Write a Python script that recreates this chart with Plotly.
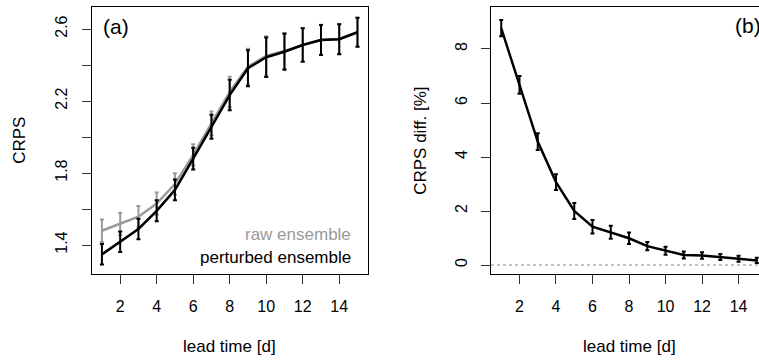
import plotly.graph_objects as go

# ---------------- data ----------------
lead_time = [1, 2, 3, 4, 5, 6, 7, 8, 9, 10, 11, 12, 13, 14, 15]

crps_raw = [1.479, 1.517, 1.557, 1.630, 1.739, 1.900, 2.075, 2.250, 2.390, 2.450, 2.478, 2.512, 2.540, 2.545, 2.582]
crps_raw_err = [0.062, 0.062, 0.060, 0.062, 0.060, 0.060, 0.067, 0.085, 0.100, 0.110, 0.100, 0.093, 0.083, 0.083, 0.080]

crps_pert = [1.348, 1.418, 1.489, 1.590, 1.706, 1.880, 2.057, 2.233, 2.382, 2.443, 2.474, 2.511, 2.539, 2.543, 2.582]
crps_pert_err = [0.057, 0.057, 0.057, 0.058, 0.058, 0.060, 0.067, 0.085, 0.100, 0.110, 0.100, 0.093, 0.083, 0.083, 0.080]

crps_diff = [8.77, 6.67, 4.57, 3.07, 2.00, 1.42, 1.21, 0.99, 0.70, 0.53, 0.37, 0.35, 0.30, 0.23, 0.17]
crps_diff_err = [0.30, 0.33, 0.31, 0.29, 0.30, 0.25, 0.24, 0.21, 0.15, 0.15, 0.13, 0.12, 0.11, 0.11, 0.10]

x_ticks = [2, 4, 6, 8, 10, 12, 14]
ya_ticks = [1.4, 1.6, 1.8, 2.0, 2.2, 2.4, 2.6]
ya_labels = ["1.4", "", "1.8", "", "2.2", "", "2.6"]
yb_ticks = [0, 2, 4, 6, 8]
yb_labels = ["0", "2", "4", "6", "8"]
zero_level = 0

# ---------------- layout constants ----------------
W, H = 759, 360
FONT = "Liberation Sans, Arial, Helvetica, sans-serif"
GRAY = "#9a9a9a"


def px(x):
    return x / W


def py(y):
    return 1 - y / H


fig = go.Figure()

fig.add_trace(go.Scatter(
    x=lead_time, y=crps_raw, mode="lines", xaxis="x", yaxis="y",
    line=dict(color=GRAY, width=2.5),
    error_y=dict(type="data", array=crps_raw_err, visible=True, color=GRAY, thickness=2, width=2),
    showlegend=False, hoverinfo="skip"))

fig.add_trace(go.Scatter(
    x=lead_time, y=crps_pert, mode="lines", xaxis="x", yaxis="y",
    line=dict(color="black", width=2.5),
    error_y=dict(type="data", array=crps_pert_err, visible=True, color="black", thickness=2, width=2),
    showlegend=False, hoverinfo="skip"))

fig.add_trace(go.Scatter(
    x=lead_time, y=crps_diff, mode="lines", xaxis="x2", yaxis="y2",
    line=dict(color="black", width=2.5),
    error_y=dict(type="data", array=crps_diff_err, visible=True, color="black", thickness=2, width=2),
    showlegend=False, hoverinfo="skip"))

fig.add_shape(type="line", xref="x2 domain", yref="y2", x0=0, x1=1, y0=zero_level, y1=zero_level,
              line=dict(color="#888888", width=1, dash="dot"), layer="below")

tick_font = dict(family=FONT, size=16, color="black")
common_x = dict(tickmode="array", tickvals=x_ticks, ticktext=[str(v) for v in x_ticks],
                ticks="outside", ticklen=9, tickwidth=1, tickcolor="#333333",
                showgrid=False, zeroline=False, showline=True, linecolor="black", linewidth=1,
                tickfont=tick_font, ticklabelstandoff=8, fixedrange=True)

fig.update_layout(
    width=W, height=H,
    margin=dict(l=0, r=0, t=0, b=0),
    paper_bgcolor="white", plot_bgcolor="white",
    font=dict(family=FONT, size=16, color="black"),
    xaxis=dict(domain=[px(91.7), px(367.7)], range=[0.44, 15.56], mirror=True, anchor="y", **common_x),
    yaxis=dict(domain=[py(274.3), py(7.3)], range=[1.2372, 2.7206], anchor="x",
               tickmode="array", tickvals=ya_ticks, ticktext=ya_labels, tickangle=-90,
               ticks="outside", ticklen=9, tickwidth=1, tickcolor="#333333",
               showgrid=False, zeroline=False, showline=True, mirror=True, linecolor="black",
               linewidth=1, tickfont=tick_font, ticklabelstandoff=8, fixedrange=True),
    xaxis2=dict(domain=[px(491), 1.0], range=[0.44, 15.12], mirror=True, anchor="y2", **common_x),
    yaxis2=dict(domain=[py(274.3), py(7.3)], range=[-0.344, 9.544], anchor="x2",
                tickmode="array", tickvals=yb_ticks, ticktext=yb_labels, tickangle=-90,
                ticks="outside", ticklen=9, tickwidth=1, tickcolor="#333333",
                showgrid=False, zeroline=False, showline=True, mirror=False, linecolor="black",
                linewidth=1, tickfont=tick_font, ticklabelstandoff=8, fixedrange=True),
)

ann = [
    dict(text="lead time [d]", x=px((91.7 + 367.7) / 2), y=py(346.7), size=17, color="black"),
    dict(text="lead time [d]", x=px(491 + (767 - 491) / 2), y=py(346.7), size=17, color="black"),
    dict(text="CRPS", x=px(20), y=py(140.8), size=17, color="black", angle=-90),
    dict(text="CRPS diff. [%]", x=px(421), y=py(140.8), size=17, color="black", angle=-90),
]
for a in ann:
    fig.add_annotation(text=a["text"], x=a["x"], y=a["y"], xref="paper", yref="paper",
                       showarrow=False, xanchor="center", yanchor="middle",
                       textangle=a.get("angle", 0),
                       font=dict(family=FONT, size=a["size"], color=a["color"]))

fig.add_annotation(text="(a)", x=px(101), y=py(27), xref="paper", yref="paper", showarrow=False,
                   xanchor="left", yanchor="middle", font=dict(family=FONT, size=21, color="black"))
fig.add_annotation(text="(b)", x=px(733), y=py(26), xref="paper", yref="paper", showarrow=False,
                   xanchor="left", yanchor="middle", font=dict(family=FONT, size=21, color="black"))
fig.add_annotation(text="raw ensemble", x=px(353), y=py(234), xref="paper", yref="paper",
                   showarrow=False, xanchor="right", yanchor="middle",
                   font=dict(family=FONT, size=17, color=GRAY))
fig.add_annotation(text="perturbed ensemble", x=px(353), y=py(257.7), xref="paper", yref="paper",
                   showarrow=False, xanchor="right", yanchor="middle",
                   font=dict(family=FONT, size=17, color="black"))

fig.write_html("out.html")
